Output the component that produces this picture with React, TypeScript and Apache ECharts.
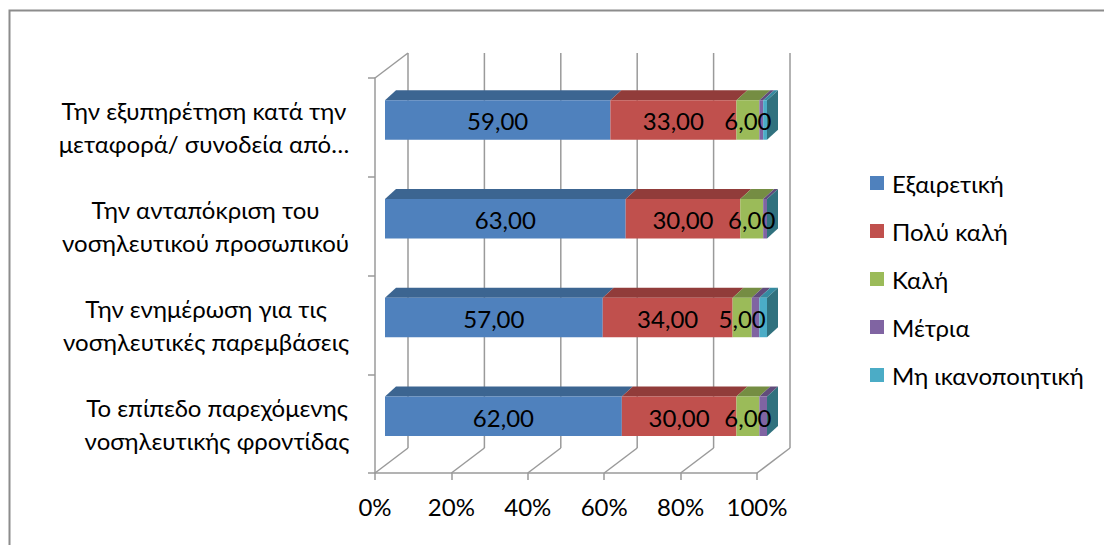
import { useEffect, useRef } from "react";
import * as echarts from "echarts";

// Survey questions (top to bottom)
const categories = [
  "Την εξυπηρέτηση κατά την\nμεταφορά/ συνοδεία από…",
  "Την ανταπόκριση του\nνοσηλευτικού προσωπικού",
  "Την ενημέρωση για τις\nνοσηλευτικές παρεμβάσεις",
  "Το επίπεδο παρεχόμενης\nνοσηλευτικής φροντίδας",
];

// Rating levels
const seriesNames = ["Εξαιρετική", "Πολύ καλή", "Καλή", "Μέτρια", "Μη ικανοποιητική"];

// Percentages per rating, one entry per question
const excellent = [59, 63, 57, 62];
const veryGood = [33, 30, 34, 30];
const good = [6, 6, 5, 6];
const moderate = [1, 1, 2, 2];
const unsatisfactory = [1, 0, 2, 0];

// Which ratings carry a value label
const labelled = [true, true, true, false, false];

// Percentage axis ticks
const percentTicks = [0, 20, 40, 60, 80, 100];

const seriesValues = [excellent, veryGood, good, moderate, unsatisfactory];

const FRONT = ["#4F81BD", "#C0504D", "#9BBB59", "#8064A2", "#4BACC6"];
const TOP = ["#3C6591", "#913C3A", "#758D43", "#614C7B", "#358AA0"];
const SIDE = "#30717E";

const FONT = 'Lato, "Noto Sans", sans-serif';
const FS = 24;
const GRID_COLOR = "#9a9a9a";

// 3D projection offsets (pixels)
const WALL_DX = 33;
const WALL_DY = -25;
const BAR_SHIFT_X = 10;
const BAR_SHIFT_Y = -7.4;
const BOX_DX = 11;
const BOX_DY = -10;
const BAR_RATIO = 0.4;

const fmt = (v: number) => v.toFixed(2).replace(".", ",");

export default function App() {
  const ref = useRef<HTMLDivElement>(null);

  useEffect(() => {
    if (!ref.current) return;
    const chart = echarts.init(ref.current, undefined, { renderer: "svg" });

    // width of the widest line of each category label, so each block's lines center on it
    const ctx = document.createElement("canvas").getContext("2d")!;
    ctx.font = `${FS}px ${FONT}`;
    const labelWidths = categories.map((c) =>
      Math.ceil(Math.max(...c.split("\n").map((l) => ctx.measureText(l).width)))
    );
    const rich: Record<string, any> = {};
    labelWidths.forEach((w, i) => {
      rich["r" + i] = {
        width: w + 1,
        align: "center",
        fontSize: FS,
        fontFamily: FONT,
        color: "#000",
        lineHeight: 33,
      };
    });

    // cumulative starts for stacking
    const starts = seriesValues.map((_, s) =>
      categories.map((__, i) => {
        let acc = 0;
        for (let k = 0; k < s; k++) acc += seriesValues[k][i];
        return acc;
      })
    );

    const barSeries = seriesNames.map((name, s) => ({
      type: "custom",
      name,
      z: 3,
      itemStyle: { color: FRONT[s] },
      encode: { x: 0, y: 1 },
      data: categories.map((_, i) => [starts[s][i], i, seriesValues[s][i]]),
      renderItem: (_params: any, api: any) => {
        const start = api.value(0);
        const cat = api.value(1);
        const val = api.value(2);
        const p0 = api.coord([start, cat]);
        const p1 = api.coord([start + val, cat]);
        const band = api.size([0, 1])[1];
        const h = band * BAR_RATIO;
        const x0 = p0[0] + BAR_SHIFT_X;
        const x1 = p1[0] + BAR_SHIFT_X;
        const yc = p0[1] + BAR_SHIFT_Y;
        const yTop = yc - h / 2;
        const yBot = yc + h / 2;
        const children: any[] = [
          {
            type: "polygon",
            z2: s,
            shape: {
              points: [
                [x0, yTop],
                [x1, yTop],
                [x1 + BOX_DX, yTop + BOX_DY],
                [x0 + BOX_DX, yTop + BOX_DY],
              ],
            },
            style: { fill: TOP[s] },
          },
          {
            type: "rect",
            z2: s,
            shape: { x: x0, y: yTop, width: x1 - x0, height: h },
            style: { fill: FRONT[s] },
          },
        ];
        if (s === seriesNames.length - 1) {
          children.push({
            type: "polygon",
            z2: s + 1,
            shape: {
              points: [
                [x1, yTop],
                [x1 + BOX_DX, yTop + BOX_DY],
                [x1 + BOX_DX, yBot + BOX_DY],
                [x1, yBot],
              ],
            },
            style: { fill: SIDE },
          });
        }
        if (labelled[s]) {
          children.push({
            type: "text",
            z2: 100,
            style: {
              text: fmt(val),
              x: (x0 + x1) / 2,
              y: yc + 1,
              align: "center",
              verticalAlign: "middle",
              fill: "#000",
              fontSize: FS,
              fontFamily: FONT,
            },
          });
        }
        return { type: "group", children };
      },
    }));

    // back wall gridlines, floor diagonals and left wall top edge
    const frameSeries = {
      type: "custom",
      name: "frame",
      z: 1,
      silent: true,
      encode: { x: 0, y: 1 },
      data: percentTicks.map((v) => [v, 0]),
      renderItem: (params: any, api: any) => {
        const v = api.value(0);
        const x = api.coord([v, 0])[0];
        const top = params.coordSys.y;
        const bottom = params.coordSys.y + params.coordSys.height;
        const style = { stroke: GRID_COLOR, lineWidth: 1.5 };
        const children: any[] = [
          {
            type: "line",
            shape: { x1: x, y1: bottom, x2: x + WALL_DX, y2: bottom + WALL_DY },
            style,
          },
          {
            type: "line",
            shape: { x1: x + WALL_DX, y1: bottom + WALL_DY, x2: x + WALL_DX, y2: top + WALL_DY },
            style,
          },
        ];
        if (v === percentTicks[0]) {
          children.push({
            type: "line",
            shape: { x1: x, y1: top, x2: x + WALL_DX, y2: top + WALL_DY },
            style,
          });
        }
        return { type: "group", children };
      },
    };

    chart.setOption({
      animation: false,
      color: FRONT,
      textStyle: { fontFamily: FONT },
      grid: { left: 375, right: 347, top: 78, bottom: 72 },
      graphic: [
        {
          type: "rect",
          shape: { x: 9.5, y: 10.5, width: 1300, height: 800 },
          style: { fill: "none", stroke: "#8c8c8c", lineWidth: 2 },
          silent: true,
        },
      ],
      legend: {
        orient: "vertical",
        left: 870,
        top: 169,
        padding: 0,
        icon: "rect",
        itemWidth: 14,
        itemHeight: 14,
        itemGap: 20,
        data: seriesNames,
        selectedMode: false,
        textStyle: {
          fontSize: FS,
          fontFamily: FONT,
          color: "#000",
          lineHeight: 28,
          padding: [0, 0, 0, 3],
        },
      },
      xAxis: {
        type: "value",
        min: 0,
        max: 100,
        interval: 20,
        splitLine: { show: false },
        axisLine: { show: true, lineStyle: { color: GRID_COLOR, width: 1.5 } },
        axisTick: { show: true, length: 7, lineStyle: { color: GRID_COLOR, width: 1.5 } },
        axisLabel: {
          formatter: "{value}%",
          margin: 21,
          fontSize: FS,
          fontFamily: FONT,
          color: "#000",
        },
      },
      yAxis: {
        type: "category",
        data: categories,
        inverse: true,
        axisLine: { show: true, lineStyle: { color: GRID_COLOR, width: 1.5 } },
        axisTick: { show: true, length: 7, lineStyle: { color: GRID_COLOR, width: 1.5 } },
        splitLine: { show: false },
        axisLabel: {
          margin: 25,
          formatter: (value: string, index: number) =>
            value
              .split("\n")
              .map((l) => `{r${index}|${l}}`)
              .join("\n"),
          rich,
        },
      },
      series: [frameSeries, ...barSeries],
    });

    return () => chart.dispose();
  }, []);

  return (
    <div
      ref={ref}
      style={{ position: "fixed", left: 0, top: 0, width: 1104, height: 545, background: "#fff" }}
    />
  );
}
